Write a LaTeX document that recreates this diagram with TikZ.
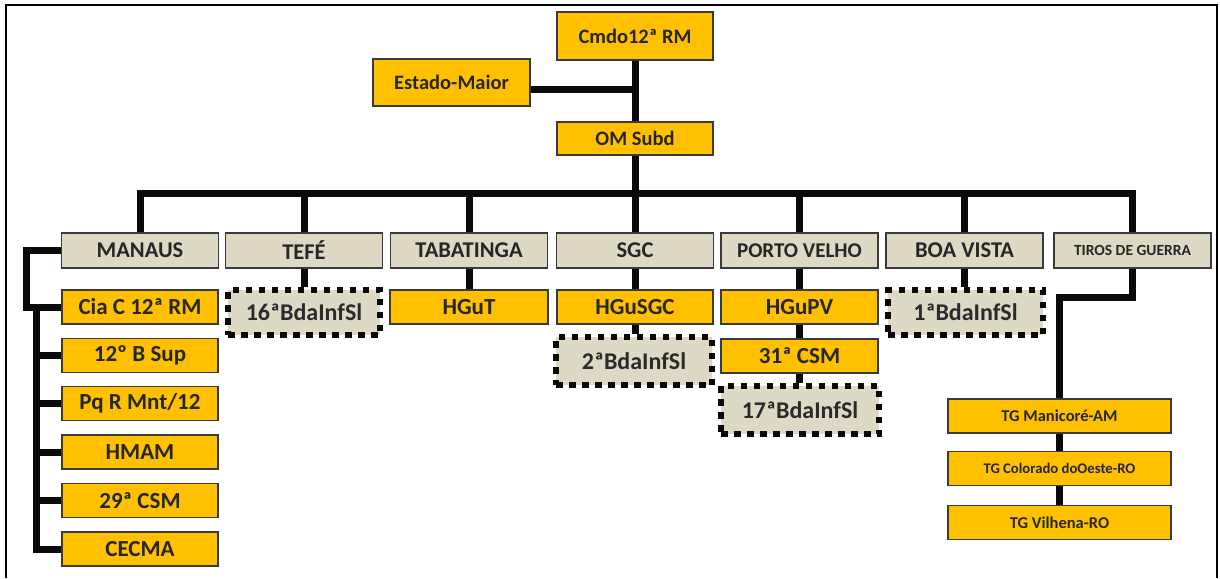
\documentclass[tikz,border=0pt]{standalone}
\usepackage{fontspec}
\setmainfont{Carlito}
\definecolor{org}{HTML}{FFC000}
\definecolor{tanf}{HTML}{DDD9C4}
\definecolor{bdr}{HTML}{3A3A3A}
\definecolor{txt}{HTML}{262626}
\definecolor{dtxt}{HTML}{2A2A2A}
\definecolor{ln}{HTML}{0A0A0A}
\tikzset{
  fs/.style={font=\bfseries\fontsize{#1}{#1}\selectfont},
  basebox/.style={rectangle, inner sep=0pt, text=txt, fs=23},
  obox/.style={basebox, fill=org, draw=bdr, line width=1.5pt, minimum width=156pt, minimum height=34pt},
  gbox/.style={basebox, fill=tanf, draw=bdr, line width=1.5pt, minimum width=157pt, minimum height=35pt, fs=22.5},
  dbox/.style={basebox, fill=tanf, draw=ln, line width=6pt, dash pattern=on 6.5pt off 6.5pt, fs=24, text=dtxt},
  conn/.style={draw=ln, line width=7pt, line join=miter},
  frame/.style={draw=black, line width=2pt}
}
\begin{document}
\begin{tikzpicture}[x=1pt,y=-1pt]
\useasboundingbox[fill=white] (0,0) rectangle (1220,578);
\draw[frame] (6,578) -- (6,5) -- (1217,5) -- (1217,578);

% top
\node[obox, minimum height=48pt, fs=20.5] (cmdo) at (635,36) {Cmdo12ª RM};
\node[obox, minimum width=157pt, minimum height=47pt, fs=20.5] (em) at (451.5,82.5) {Estado-Maior};
\node[obox, minimum height=33pt, fs=20.5] (om) at (635,138.5) {OM Subd};

% headers
\node[gbox] (manaus) at (140,250.5) {MANAUS};
\node[gbox] (tefe) at (304,250.5) {TEFÉ};
\node[gbox] (taba) at (469,250.5) {TABATINGA};
\node[gbox] (sgc) at (635,250.5) {SGC};
\node[gbox, fs=21] (pv) at (799.5,250.5) {PORTO VELHO};
\node[gbox] (bv) at (964.5,250.5) {BOA VISTA};
\node[gbox, fs=15.5] (tg) at (1132.5,250.5) {TIROS DE GUERRA};

% Manaus column
\node[obox] (cia) at (140,307) {Cia C 12ª RM};
\node[obox] (bsup) at (140,355.5) {12º B Sup};
\node[obox] (pq) at (140,403.5) {Pq R Mnt/12};
\node[obox] (hmam) at (140,452) {HMAM};
\node[obox] (csm29) at (140,500.5) {29ª CSM};
\node[obox] (cecma) at (140,549) {CECMA};

% other columns
\node[dbox, minimum width=152pt, minimum height=45pt] (b16) at (304,312.5) {16ªBdaInfSl};
\node[obox, minimum width=158pt] (hgut) at (469,307) {HGuT};
\node[obox] (hgusgc) at (635,307) {HGuSGC};
\node[dbox, minimum width=156pt, minimum height=48pt] (b2) at (634,361) {2ªBdaInfSl};
\node[obox, minimum width=157pt] (hgupv) at (799.5,307) {HGuPV};
\node[obox, minimum width=157pt] (csm31) at (799.5,356) {31ª CSM};
\node[dbox, minimum width=158pt, minimum height=48pt] (b17) at (800,410) {17ªBdaInfSl};
\node[dbox, minimum width=155pt, minimum height=45pt] (b1) at (965.5,312.5) {1ªBdaInfSl};

% TG column
\node[obox, minimum width=223pt, fs=16.5] (tgman) at (1059.5,416) {TG Manicoré-AM};
\node[obox, minimum width=223pt, fs=14.7] (tgcol) at (1059.5,468.5) {TG Colorado doOeste-RO};
\node[obox, minimum width=223pt, fs=16.5] (tgvil) at (1059.5,522.5) {TG Vilhena-RO};

% helper coordinates
\coordinate (bus) at (635,193);
\coordinate (mx1) at (26,0);
\coordinate (mx2) at (36,0);
\coordinate (tgturn) at (0,297);

% connectors
\draw[conn] (cmdo.south) -- (om.north);
\draw[conn] ([yshift=-7pt]em.east) -- ([yshift=-7pt]em.east -| cmdo.south);
\draw[conn] (om.south) -- (bus);
\draw[conn] (manaus.north) -- (manaus.north |- bus) -- (tg.north |- bus) -- (tg.north);
\foreach \n in {tefe,taba,sgc,pv,bv} \draw[conn] (\n.north) -- (\n.north |- bus);

\draw[conn] (manaus.west) -- (mx1 |- manaus.west) -- (mx1 |- cia.west) -- (cia.west);
\draw[conn] (mx2 |- cia.west) -- (mx2 |- cecma.west) -- (cecma.west);
\foreach \n in {bsup,pq,hmam,csm29} \draw[conn] (mx2 |- \n.west) -- (\n.west);

\draw[conn] (tefe.south) -- (b16.north);
\draw[conn] (taba.south) -- (hgut.north);
\draw[conn] (sgc.south) -- (hgusgc.north);
\draw[conn] (hgusgc.south) -- (hgusgc.south |- b2.north);
\draw[conn] (pv.south) -- (hgupv.north);
\draw[conn] (hgupv.south) -- (csm31.north);
\draw[conn] (csm31.south) -- (csm31.south |- b17.north);
\draw[conn] (bv.south) -- (bv.south |- b1.north);

\draw[conn] (tg.south) -- (tg.south |- tgturn) -- (tgman.north |- tgturn) -- (tgman.north);
\draw[conn] (tgman.south) -- (tgcol.north);
\draw[conn] (tgcol.south) -- (tgvil.north);
\end{tikzpicture}
\end{document}
